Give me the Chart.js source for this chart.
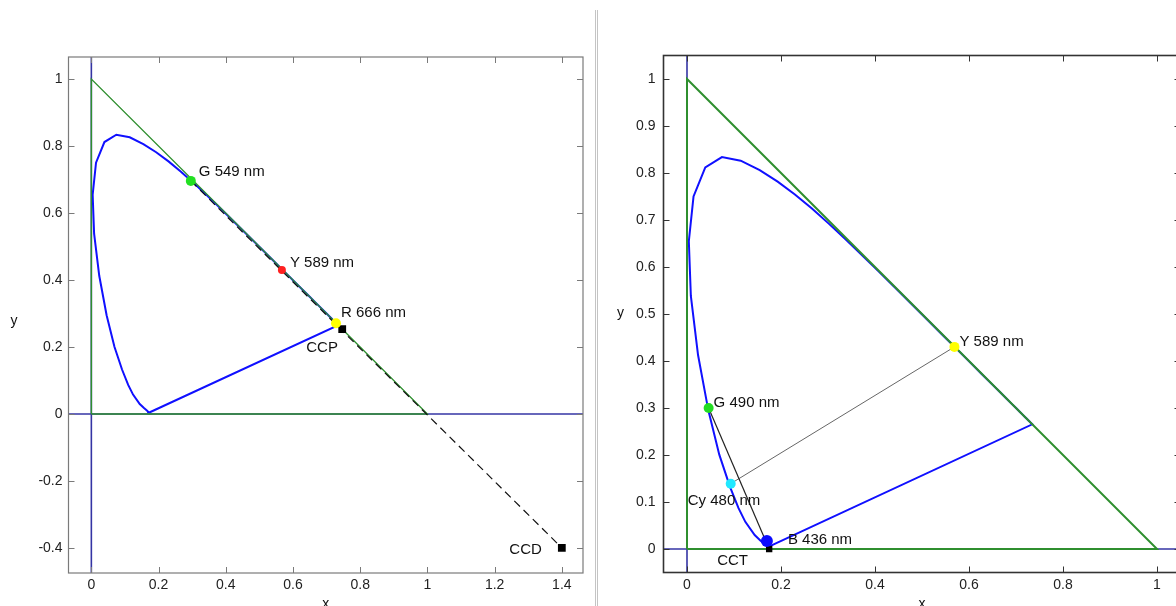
<!DOCTYPE html>
<html>
<head>
<meta charset="utf-8">
<script src="https://cdn.jsdelivr.net/npm/chart.js@4"></script>
<style>
  html, body { margin: 0; padding: 0; background: #fff; overflow: hidden; width: 1176px; height: 606px; }
  #left { position: absolute; left: 0; top: 0; }
  #right { position: absolute; left: 600px; top: 0; }
  .split { position: absolute; top: 10px; bottom: 0; width: 1px; background: #c4c4c4; }
</style>
</head>
<body>
<canvas id="left" width="590" height="606"></canvas>
<div class="split" style="left:595px"></div>
<div class="split" style="left:597px"></div>
<canvas id="right" width="600" height="606"></canvas>
<script>
// spectral locus (x, y chromaticity), 380 nm -> 700 nm
const locusX = [0.1741, 0.1738, 0.1733, 0.1726, 0.1714, 0.1689, 0.1644, 0.1566, 0.1440, 0.1241, 0.1096,
  0.0913, 0.0687, 0.0454, 0.0235, 0.0082, 0.0039, 0.0139, 0.0389, 0.0743, 0.1142, 0.1547, 0.1929,
  0.2296, 0.2658, 0.3016, 0.3373, 0.3731, 0.4087, 0.4441, 0.4788, 0.5125, 0.5448, 0.5752, 0.6029,
  0.6270, 0.6482, 0.6658, 0.6801, 0.6915, 0.7006, 0.7079, 0.7140, 0.7190, 0.7230, 0.7260, 0.7283,
  0.7300, 0.7347];
const locusY = [0.0050, 0.0049, 0.0048, 0.0048, 0.0051, 0.0069, 0.0109, 0.0177, 0.0297, 0.0578, 0.0868,
  0.1327, 0.2007, 0.2950, 0.4127, 0.5384, 0.6548, 0.7502, 0.8120, 0.8338, 0.8262, 0.8059, 0.7816,
  0.7543, 0.7243, 0.6923, 0.6589, 0.6245, 0.5896, 0.5547, 0.5202, 0.4866, 0.4544, 0.4242, 0.3965,
  0.3725, 0.3514, 0.3340, 0.3197, 0.3083, 0.2993, 0.2920, 0.2859, 0.2809, 0.2770, 0.2740, 0.2717,
  0.2700, 0.2653];

// triangle x + y = 1
const triX = [0, 1, 0, 0];
const triY = [0, 0, 1, 0];

// copunctal points
const copunctNames = ['CCP', 'CCD', 'CCT'];
const copunctX = [0.7465, 1.4, 0.1748];
const copunctY = [0.2535, -0.4, 0.0];

// left plot: marked wavelengths
const leftNames = ['G 549 nm', 'Y 589 nm', 'R 666 nm'];
const leftX = [0.296, 0.567, 0.728];
const leftY = [0.696, 0.430, 0.271];

// right plot: marked wavelengths
const rightNames = ['Y 589 nm', 'G 490 nm', 'Cy 480 nm', 'B 436 nm'];
const rightX = [0.569, 0.046, 0.093, 0.170];
const rightY = [0.430, 0.300, 0.139, 0.017];

// axis limits and ticks
const leftXRange = [-0.068, 1.463];
const leftYRange = [-0.475, 1.066];
const leftXTicks = [0, 0.2, 0.4, 0.6, 0.8, 1, 1.2, 1.4];
const leftYTicks = [-0.4, -0.2, 0, 0.2, 0.4, 0.6, 0.8, 1];
const rightXRange = [-0.05, 1.05];
const rightYRange = [-0.05, 1.05];
const rightXTicks = [0, 0.2, 0.4, 0.6, 0.8, 1];
const rightYTicks = [0, 0.1, 0.2, 0.3, 0.4, 0.5, 0.6, 0.7, 0.8, 0.9, 1];

const FONT = '"Liberation Sans", Arial, sans-serif';
const NAVY = '#3434a4';
const GREEN = '#2f8f2f';
const BLUE = '#1010ff';

const pts = (xs, ys) => xs.map((x, i) => ({ x, y: ys[i] }));
const closed = (xs, ys) => pts(xs.concat(xs[0]), ys.concat(ys[0]));

function line(data, color, width, order, dash) {
  return { data, showLine: true, borderColor: color, borderWidth: width, pointRadius: 0,
    borderDash: dash || [], order, clip: 0, fill: false };
}
function dot(x, y, color, radius, style) {
  return { data: [{ x, y }], showLine: false, pointRadius: radius, pointHoverRadius: radius,
    backgroundColor: color, borderColor: color, borderWidth: 0, pointStyle: style || 'circle', order: 0 };
}

function makeChart(id, c) {
  const framePlugin = {
    id: 'frame',
    afterDraw(chart) {
      const { ctx, chartArea: a, scales: { x, y } } = chart;
      ctx.save();
      ctx.strokeStyle = c.frame;
      ctx.lineWidth = c.frameWidth;
      ctx.strokeRect(a.left, a.top, a.right - a.left, a.bottom - a.top);
      ctx.beginPath();
      c.xTicks.forEach(v => {
        const px = Math.round(x.getPixelForValue(v)) + 0.5;
        ctx.moveTo(px, a.bottom); ctx.lineTo(px, a.bottom - 6);
        ctx.moveTo(px, a.top); ctx.lineTo(px, a.top + 6);
      });
      c.yTicks.forEach(v => {
        const py = Math.round(y.getPixelForValue(v)) + 0.5;
        ctx.moveTo(a.left, py); ctx.lineTo(a.left + 6, py);
        ctx.moveTo(a.right, py); ctx.lineTo(a.right - 6, py);
      });
      ctx.lineWidth = 1;
      ctx.stroke();

      ctx.fillStyle = '#111';
      ctx.font = '15px ' + FONT;
      ctx.textBaseline = 'middle';
      c.labels.forEach(l => {
        ctx.textAlign = l.align || 'left';
        ctx.fillText(l.text, x.getPixelForValue(l.x) + l.dx, y.getPixelForValue(l.y) + l.dy);
      });
      ctx.textAlign = 'center';
      ctx.textBaseline = 'alphabetic';
      ctx.font = '14px ' + FONT;
      ctx.fillText('y', c.yTitle[0], c.yTitle[1]);
      ctx.fillText('x', (a.left + a.right) / 2, c.xTitleY);
      ctx.restore();
    }
  };

  const tickFont = { size: 14, family: FONT };
  return new Chart(document.getElementById(id), {
    type: 'scatter',
    data: { datasets: c.datasets },
    options: {
      responsive: false,
      animation: false,
      events: [],
      layout: { padding: c.padding },
      plugins: { legend: { display: false }, tooltip: { enabled: false } },
      scales: {
        x: {
          type: 'linear', min: c.xRange[0], max: c.xRange[1],
          afterBuildTicks: s => { s.ticks = c.xTicks.map(value => ({ value })); },
          afterFit: s => { s.height = c.xAxisH; },
          grid: { display: false, drawTicks: false }, border: { display: false },
          ticks: { padding: 4, color: '#222', font: tickFont, autoSkip: false, maxRotation: 0,
            callback: v => String(v) }
        },
        y: {
          type: 'linear', min: c.yRange[0], max: c.yRange[1],
          afterBuildTicks: s => { s.ticks = c.yTicks.map(value => ({ value })); },
          afterFit: s => { s.width = c.yAxisW; },
          grid: { display: false, drawTicks: false }, border: { display: false },
          ticks: { padding: c.yPad, color: '#222', font: tickFont, autoSkip: false,
            callback: v => String(v) }
        }
      }
    },
    plugins: [framePlugin]
  });
}

// ---------- left plot ----------
const leftOffsets = [[8, -9], [8, -7], [5, -10]];
const leftColors = ['#22e022', '#ff2020', '#ffff00'];
const leftRadius = [5, 4, 5];
makeChart('left', {
  xRange: leftXRange, yRange: leftYRange, xTicks: leftXTicks, yTicks: leftYTicks,
  padding: { top: 57, right: 7, left: 0, bottom: 0 }, xAxisH: 33, yAxisW: 68.5, yPad: 6,
  frame: '#7a7a7a', frameWidth: 1.2,
  yTitle: [14, 325], xTitleY: 607.5,
  datasets: [
    line(pts([0, 0], leftYRange), NAVY, 1.6, 10),
    line(pts(leftXRange, [0, 0]), NAVY, 1.6, 10),
    line(closed(locusX, locusY), BLUE, 2, 9),
    line(pts(triX, triY), GREEN, 1.4, 8),
    line(pts([leftX[0], copunctX[1]], [leftY[0], copunctY[1]]), '#111', 1.2, 7, [8, 5]),
    ...leftX.map((x, i) => dot(x, leftY[i], leftColors[i], leftRadius[i])),
    dot(copunctX[0], copunctY[0], '#000', 5.5, 'rect'),
    dot(copunctX[1], copunctY[1], '#000', 5.5, 'rect')
  ],
  labels: [
    ...leftNames.map((t, i) => ({ text: t, x: leftX[i], y: leftY[i], dx: leftOffsets[i][0], dy: leftOffsets[i][1] })),
    { text: copunctNames[0], x: copunctX[0], y: copunctY[0], dx: -36, dy: 19 },
    { text: copunctNames[1], x: copunctX[1], y: copunctY[1], dx: -20, dy: 2, align: 'right' }
  ]
});

// ---------- right plot ----------
const rightOffsets = [[5, -5], [5, -5], [-43, 17], [21, -1]];
const rightColors = ['#ffff00', '#22dd22', '#20e8ff', '#0a0aff'];
const rightRadius = [5, 5, 5, 6];
makeChart('right', {
  xRange: rightXRange, yRange: rightYRange, xTicks: rightXTicks, yTicks: rightYTicks,
  padding: { top: 55.5, right: 19.5, left: 0, bottom: 0 }, xAxisH: 33.5, yAxisW: 63.5, yPad: 8,
  frame: '#333', frameWidth: 1.6,
  yTitle: [20.5, 317], xTitleY: 607.5,
  datasets: [
    line(pts([0, 0], rightYRange), NAVY, 1.6, 10),
    line(pts(rightXRange, [0, 0]), NAVY, 1.6, 10),
    line(closed(locusX, locusY), BLUE, 2, 9),
    line(pts(triX, triY), GREEN, 2, 8),
    line(pts([rightX[1], copunctX[2]], [rightY[1], copunctY[2]]), '#222', 1.2, 7),
    line(pts([rightX[2], rightX[0]], [rightY[2], rightY[0]]), '#666', 1, 7),
    ...rightX.map((x, i) => dot(x, rightY[i], rightColors[i], rightRadius[i])),
    dot(copunctX[2], copunctY[2], '#000', 4.5, 'rect')
  ],
  labels: [
    ...rightNames.map((t, i) => ({ text: t, x: rightX[i], y: rightY[i], dx: rightOffsets[i][0], dy: rightOffsets[i][1] })),
    { text: copunctNames[2], x: copunctX[2], y: copunctY[2], dx: -52, dy: 12 }
  ]
});
</script>
</body>
</html>
